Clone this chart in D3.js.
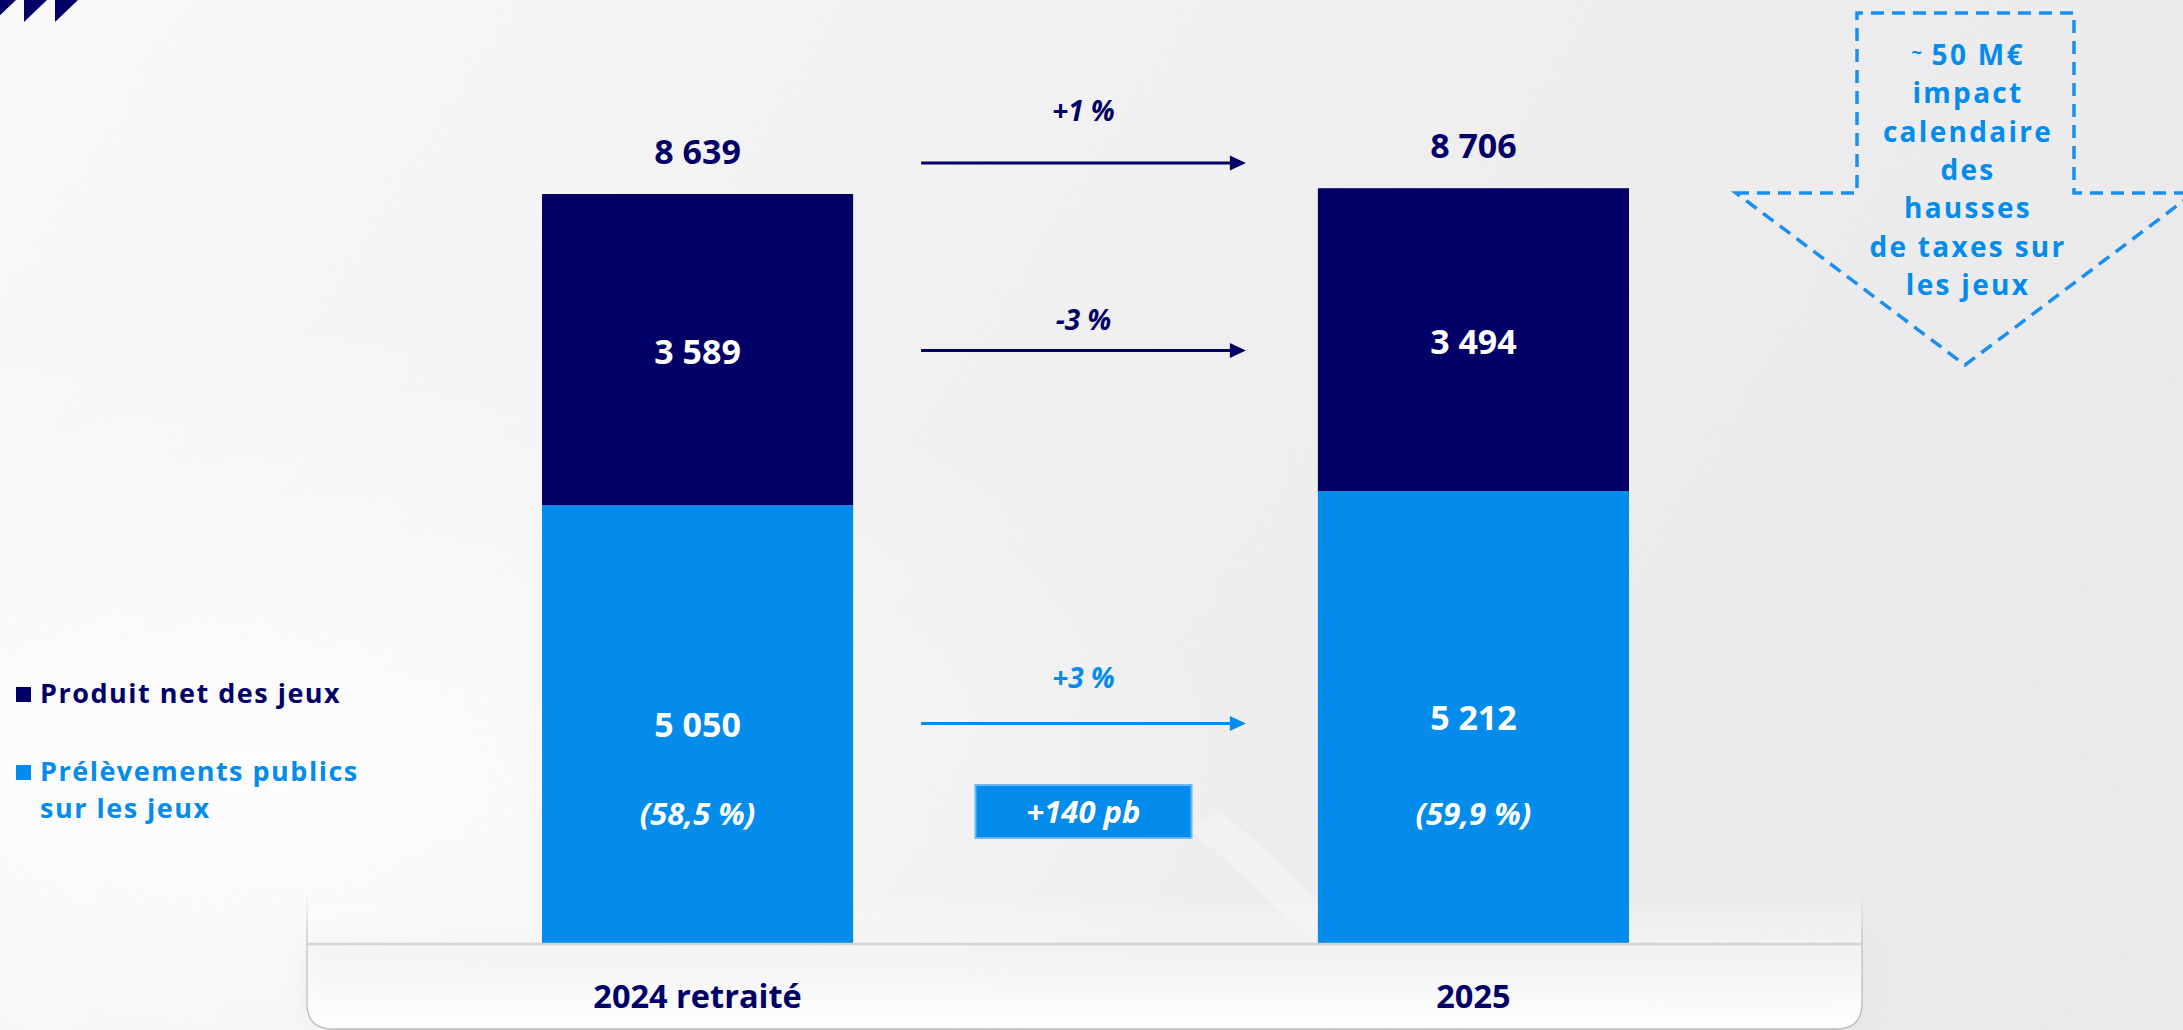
<!DOCTYPE html>
<html>
<head>
<meta charset="utf-8">
<script src="https://cdn.jsdelivr.net/npm/d3@7"></script>
<style>
  html, body { margin: 0; padding: 0; background: #efeff1; overflow: hidden; }
  svg { display: block; font-family: "Open Sans", Lato, sans-serif; }
</style>
</head>
<body>
<div id="chart"></div>
<script>
// data
const categories = ['2024 retraité', '2025'];
const produitNet = [3589, 3494];
const prelevements = [5050, 5212];
const totals = [8639, 8706];
const partPrelevements = ['(58,5 %)', '(59,9 %)'];
const variations = ['+1 %', '-3 %', '+3 %'];
const ecartPb = '+140 pb';
const seriesNames = ['Produit net des jeux', 'Prélèvements publics sur les jeux'];
const impactLines = ['50 M€', 'impact', 'calendaire', 'des', 'hausses', 'de taxes sur', 'les jeux'];

const W = 2183, H = 1030;
const navy = '#020066', blue = '#038ceb';

const fmt = d3.formatLocale({ decimal: ',', thousands: ' ', grouping: [3], currency: ['', ''] }).format(',d');

const svg = d3.select('#chart').append('svg')
  .attr('width', W)
  .attr('height', H);

const defs = svg.append('defs');

// background: grey with a white glow on the left and some grain
let bg = defs.append('linearGradient').attr('id', 'bg').attr('x1', 0).attr('y1', 0).attr('x2', 1).attr('y2', 0.3);
bg.append('stop').attr('offset', 0).attr('stop-color', '#fbfbfc');
bg.append('stop').attr('offset', 0.45).attr('stop-color', '#f3f3f4');
bg.append('stop').attr('offset', 1).attr('stop-color', '#ebebed');

let glow = defs.append('radialGradient').attr('id', 'glow').attr('cx', 0.12).attr('cy', 0.75).attr('r', 0.45);
glow.append('stop').attr('offset', 0).attr('stop-color', '#ffffff').attr('stop-opacity', 1);
glow.append('stop').attr('offset', 1).attr('stop-color', '#ffffff').attr('stop-opacity', 0);

let grain = defs.append('filter').attr('id', 'grain');
grain.append('feTurbulence').attr('type', 'fractalNoise').attr('baseFrequency', 0.9).attr('numOctaves', 2).attr('result', 'n');
grain.append('feColorMatrix').attr('type', 'matrix')
  .attr('values', '0 0 0 0 0.5  0 0 0 0 0.5  0 0 0 0 0.5  0 0 0 0.06 0');

svg.append('rect').attr('width', W).attr('height', H).attr('fill', 'url(#bg)');
svg.append('rect').attr('width', W).attr('height', H).attr('fill', 'url(#glow)');

// faint diagonal sheen between the bars
svg.append('path')
  .attr('d', 'M1190,828 L1320,948 L1320,900 L1220,810 Z')
  .attr('fill', '#ffffff').attr('opacity', 0.3);

svg.append('rect').attr('width', W).attr('height', H).attr('filter', 'url(#grain)');

// top-left corner marks
[-7, 24, 55].forEach(x0 => {
  svg.append('path')
    .attr('d', `M${x0},0 L${x0 + 23},0 L${x0},22 Z`)
    .attr('fill', navy);
});

// scales
const x = d3.scaleBand()
  .domain(categories)
  .range([542, 1629])
  .paddingInner(0.599)
  .paddingOuter(0);

const y = d3.scaleLinear()
  .domain([0, totals[0]])
  .range([943, 194]);

// bottom panel holding the category axis
let panelFill = defs.append('linearGradient').attr('id', 'panelFill').attr('x1', 0).attr('y1', 0).attr('x2', 0).attr('y2', 1);
panelFill.append('stop').attr('offset', 0).attr('stop-color', '#ffffff').attr('stop-opacity', 0);
panelFill.append('stop').attr('offset', 0.4).attr('stop-color', '#f7f7f9').attr('stop-opacity', 0.7);
panelFill.append('stop').attr('offset', 1).attr('stop-color', '#ffffff').attr('stop-opacity', 1);

let panelStroke = defs.append('linearGradient').attr('id', 'panelStroke').attr('x1', 0).attr('y1', 0).attr('x2', 0).attr('y2', 1);
panelStroke.append('stop').attr('offset', 0).attr('stop-color', '#c4c4ca').attr('stop-opacity', 0);
panelStroke.append('stop').attr('offset', 0.3).attr('stop-color', '#c4c4ca').attr('stop-opacity', 1);
panelStroke.append('stop').attr('offset', 1).attr('stop-color', '#b9b9bf').attr('stop-opacity', 1);

let shadow = defs.append('filter').attr('id', 'shadow').attr('x', -0.1).attr('y', -0.5).attr('width', 1.2).attr('height', 2);
shadow.append('feGaussianBlur').attr('stdDeviation', 12);

const pL = 307, pR = 1862, pT = 895, pB = 1029, rad = 26;
const panelPath = `M${pL},${pT} L${pL},${pB - rad} Q${pL},${pB} ${pL + rad},${pB} L${pR - rad},${pB} Q${pR},${pB} ${pR},${pB - rad} L${pR},${pT}`;
const lowerPath = `M${pL},${943} L${pL},${pB - rad} Q${pL},${pB} ${pL + rad},${pB} L${pR - rad},${pB} Q${pR},${pB} ${pR},${pB - rad} L${pR},${943} Z`;

svg.append('path').attr('d', lowerPath)
  .attr('fill', '#d4d4dc').attr('opacity', 0.35).attr('filter', 'url(#shadow)');
svg.append('path').attr('d', panelPath + ' Z').attr('fill', 'url(#panelFill)');
svg.append('path').attr('d', panelPath)
  .attr('fill', 'none').attr('stroke', 'url(#panelStroke)').attr('stroke-width', 1.3);

// stacked bars
const stackData = categories.map((c, i) => ({ cat: c, pre: prelevements[i], net: produitNet[i] }));
const series = d3.stack().keys(['pre', 'net'])(stackData);
const colors = { pre: blue, net: navy };

svg.append('g').selectAll('g')
  .data(series)
  .join('g')
  .attr('fill', d => colors[d.key])
  .selectAll('rect')
  .data(d => d)
  .join('rect')
  .attr('x', d => x(d.data.cat))
  .attr('y', d => y(d[1]))
  .attr('width', x.bandwidth())
  .attr('height', d => y(d[0]) - y(d[1]));

// baseline / x axis
const xAxis = svg.append('g')
  .attr('transform', `translate(0,${y(0)})`)
  .call(d3.axisBottom(x).tickSize(0).tickPadding(42));
xAxis.select('.domain').remove();
svg.append('line')
  .attr('x1', pL + 1).attr('x2', pR - 1)
  .attr('y1', y(0) + 1).attr('y2', y(0) + 1)
  .attr('stroke', '#d3d3d8').attr('stroke-width', 2.5);
xAxis.selectAll('text')
  .attr('font-size', 32.5).attr('font-weight', 700)
  .attr('fill', navy).attr('font-family', '"Open Sans", sans-serif');

// value labels
const cx = c => x(c) + x.bandwidth() / 2;
const lab = svg.append('g').attr('text-anchor', 'middle').attr('font-weight', 700);

lab.selectAll('.tot').data(categories).join('text')
  .attr('x', cx).attr('y', (c, i) => y(totals[i]) - 30)
  .attr('font-size', 34).attr('fill', navy)
  .text((c, i) => fmt(totals[i]));

lab.selectAll('.net').data(categories).join('text')
  .attr('x', cx).attr('y', (c, i) => (y(totals[i]) + y(prelevements[i])) / 2 + 14)
  .attr('font-size', 34).attr('fill', '#fff')
  .text((c, i) => fmt(produitNet[i]));

lab.selectAll('.pre').data(categories).join('text')
  .attr('x', cx).attr('y', (c, i) => (y(prelevements[i]) + y(0)) / 2 + 13)
  .attr('font-size', 34).attr('fill', '#fff')
  .text((c, i) => fmt(prelevements[i]));

lab.selectAll('.part').data(categories).join('text')
  .attr('x', cx).attr('y', y(0) - 118)
  .attr('font-size', 31).attr('font-style', 'italic').attr('fill', '#fff')
  .text((c, i) => partPrelevements[i]);

// variation arrows between the bars
const ax0 = x(categories[0]) + x.bandwidth() + 68;
const ax1 = x(categories[1]) - 72;
const axm = (ax0 + ax1) / 2;
const mean = a => (a[0] + a[1]) / 2;
const arrowRows = [
  { y: mean(totals.map(t => y(t))) - 28, dy: -42, color: navy },
  { y: mean(categories.map((c, i) => (y(totals[i]) + y(prelevements[i])) / 2)) + 6, dy: -21, color: navy },
  { y: mean(categories.map((c, i) => (y(prelevements[i]) + y(0)) / 2)) + 3, dy: -36, color: blue }
];

arrowRows.forEach((r, i) => {
  const g = svg.append('g');
  g.append('line')
    .attr('x1', ax0).attr('x2', ax1 - 14)
    .attr('y1', r.y).attr('y2', r.y)
    .attr('stroke', r.color).attr('stroke-width', 3);
  g.append('path')
    .attr('d', `M${ax1 - 16},${r.y - 7.5} L${ax1},${r.y} L${ax1 - 16},${r.y + 7.5} Z`)
    .attr('fill', r.color);
  g.append('text')
    .attr('x', axm).attr('y', r.y + r.dy)
    .attr('text-anchor', 'middle')
    .attr('font-size', 28).attr('font-weight', 700).attr('font-style', 'italic')
    .attr('fill', r.color)
    .text(variations[i]);
});

// +140 pb box
svg.append('rect')
  .attr('x', axm - 108).attr('y', 785)
  .attr('width', 216).attr('height', 53)
  .attr('fill', blue).attr('stroke', '#6ab8f2').attr('stroke-width', 2);
svg.append('text')
  .attr('x', axm).attr('y', 823)
  .attr('text-anchor', 'middle')
  .attr('font-size', 31).attr('font-weight', 700).attr('font-style', 'italic')
  .attr('fill', '#fff')
  .text(ecartPb);

// legend
const legend = svg.append('g').attr('font-weight', 700).attr('font-size', 27).attr('letter-spacing', 1.5);
const legendColors = [navy, blue];
const legendY = [703, 781];
seriesNames.forEach((name, i) => {
  legend.append('rect')
    .attr('x', 16).attr('y', legendY[i] - 16)
    .attr('width', 15).attr('height', 15)
    .attr('fill', legendColors[i]);
  if (i === 1) {
    legend.append('text').attr('x', 40).attr('y', legendY[i]).attr('fill', legendColors[i])
      .text('Prélèvements publics');
    legend.append('text').attr('x', 40).attr('y', legendY[i] + 37).attr('fill', legendColors[i])
      .text('sur les jeux');
  } else {
    legend.append('text').attr('x', 40).attr('y', legendY[i]).attr('fill', legendColors[i])
      .text(name);
  }
});

// dashed down-arrow callout, top right
const acx = 1965;
svg.append('path')
  .attr('d', `M${acx - 229},193 L${acx - 108},193 L${acx - 108},13 L${acx + 109},13 L${acx + 109},193 L${acx + 229},193 L${acx},365 Z`)
  .attr('fill', 'none')
  .attr('stroke', '#1a8ff0').attr('stroke-width', 3.5)
  .attr('stroke-dasharray', '13 8');

const callout = svg.append('text')
  .attr('text-anchor', 'middle')
  .attr('font-size', 28).attr('font-weight', 700)
  .attr('letter-spacing', 2.3)
  .attr('fill', blue);
impactLines.forEach((line, i) => {
  const ts = callout.append('tspan').attr('x', acx + 3).attr('y', 65 + i * 38.3);
  if (i === 0) {
    ts.append('tspan').attr('font-size', 19).attr('dy', -6).text('~ ');
    ts.append('tspan').attr('dy', 6).text(line);
  } else {
    ts.text(line);
  }
});
</script>
</body>
</html>
